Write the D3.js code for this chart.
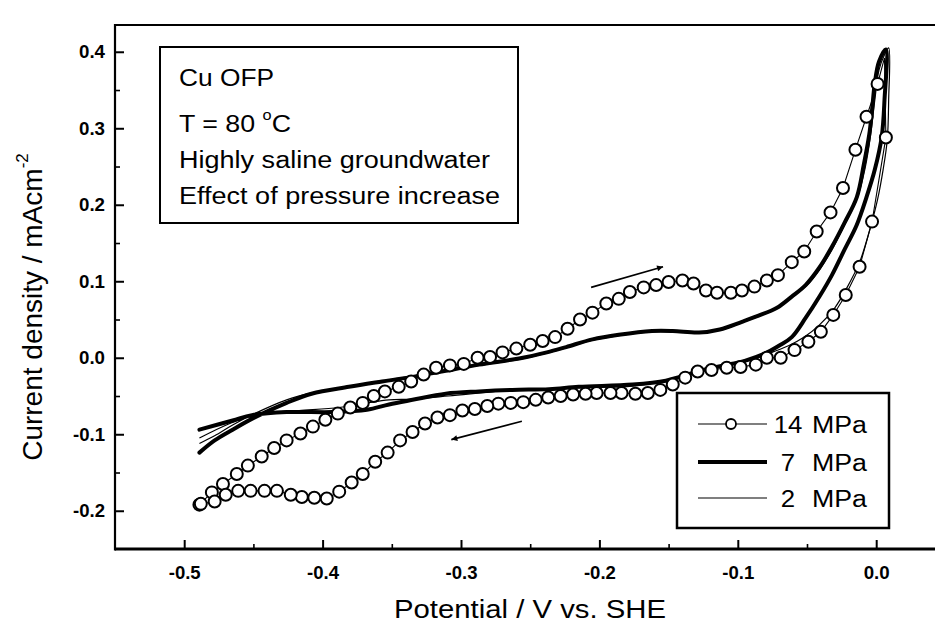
<!DOCTYPE html>
<html><head><meta charset="utf-8">
<script src="https://cdn.jsdelivr.net/npm/d3@7"></script>
<style>body{margin:0;background:#fff}svg{display:block}</style>
</head><body>
<svg id="chart" width="935" height="627"></svg>
<script>
// ---------- data (potential V vs SHE, current density mA/cm2) ----------
const xTickValues = [-0.5, -0.4, -0.3, -0.2, -0.1, 0.0];
const xMinorValues = [-0.45, -0.35, -0.25, -0.15, -0.05];
const yTickValues = [-0.2, -0.1, 0.0, 0.1, 0.2, 0.3, 0.4];
const yMinorValues = [-0.15, -0.05, 0.05, 0.15, 0.25, 0.35];
const seriesNames = ["14", "7", "2"];
const infoLines = ["Cu OFP", "T = 80 °C", "Highly saline groundwater", "Effect of pressure increase"];

// 14 MPa: forward (anodic) sweep then reverse sweep, circles
const p14 = [
 [-0.489,-0.192],[-0.480,-0.176],[-0.472,-0.165],[-0.462,-0.152],[-0.454,-0.141],[-0.444,-0.129],
 [-0.435,-0.118],[-0.426,-0.108],[-0.416,-0.099],[-0.407,-0.090],[-0.398,-0.081],[-0.389,-0.073],
 [-0.380,-0.065],[-0.371,-0.059],[-0.363,-0.050],[-0.355,-0.044],[-0.345,-0.038],[-0.336,-0.031],
 [-0.327,-0.022],[-0.318,-0.013],[-0.308,-0.010],[-0.298,-0.008],[-0.288,0.000],[-0.279,0.001],
 [-0.270,0.007],[-0.260,0.012],[-0.250,0.017],[-0.241,0.022],[-0.232,0.027],[-0.223,0.038],
 [-0.214,0.050],[-0.205,0.059],[-0.195,0.071],[-0.186,0.077],[-0.178,0.086],[-0.168,0.092],
 [-0.159,0.095],[-0.150,0.099],[-0.140,0.101],[-0.132,0.097],[-0.123,0.088],[-0.115,0.085],
 [-0.105,0.085],[-0.097,0.088],[-0.088,0.093],[-0.079,0.101],[-0.071,0.108],[-0.061,0.125],
 [-0.052,0.139],[-0.043,0.165],[-0.033,0.190],[-0.024,0.222],[-0.015,0.272],[-0.007,0.315],
 [0.001,0.358],
 [0.007,0.288],[-0.003,0.178],[-0.012,0.119],[-0.022,0.082],[-0.031,0.056],[-0.040,0.034],
 [-0.049,0.021],[-0.059,0.010],[-0.069,0.000],[-0.079,0.000],[-0.087,-0.009],[-0.098,-0.012],
 [-0.108,-0.013],[-0.119,-0.016],[-0.129,-0.018],[-0.138,-0.026],[-0.147,-0.035],[-0.156,-0.042],
 [-0.165,-0.046],[-0.174,-0.047],[-0.184,-0.046],[-0.192,-0.046],[-0.202,-0.046],[-0.210,-0.047],
 [-0.219,-0.048],[-0.228,-0.050],[-0.237,-0.052],[-0.246,-0.055],[-0.255,-0.058],[-0.264,-0.059],
 [-0.273,-0.060],[-0.281,-0.063],[-0.290,-0.067],[-0.299,-0.069],[-0.308,-0.075],[-0.317,-0.078],
 [-0.326,-0.086],[-0.335,-0.097],[-0.344,-0.108],[-0.353,-0.124],[-0.362,-0.136],[-0.371,-0.152],
 [-0.379,-0.163],[-0.388,-0.175],[-0.397,-0.184],[-0.406,-0.183],[-0.415,-0.182],[-0.423,-0.179],
 [-0.433,-0.174],[-0.442,-0.174],[-0.452,-0.174],[-0.461,-0.174],[-0.470,-0.179],[-0.478,-0.188],
 [-0.488,-0.191]
];
const p14VertexIndex = 55;             // sweep reversal lies between these two circles
const p14Vertex = [0.006, 0.392];

// 7 MPa: forward then reverse sweep
const p7 = [
 [-0.489,-0.124],[-0.478,-0.108],[-0.465,-0.094],[-0.448,-0.077],[-0.426,-0.059],[-0.408,-0.047],
 [-0.381,-0.038],[-0.357,-0.031],[-0.332,-0.024],[-0.311,-0.017],[-0.287,-0.009],[-0.258,-0.001],
 [-0.238,0.007],[-0.224,0.014],[-0.205,0.024],[-0.186,0.030],[-0.162,0.035],[-0.147,0.035],
 [-0.128,0.033],[-0.113,0.037],[-0.097,0.047],[-0.085,0.055],[-0.072,0.065],[-0.061,0.080],
 [-0.051,0.095],[-0.041,0.118],[-0.032,0.145],[-0.023,0.176],[-0.014,0.210],[-0.009,0.252],
 [-0.005,0.292],[-0.003,0.324],[-0.001,0.359],[0.002,0.387],[0.007,0.403],
 [0.006,0.337],[0.004,0.289],[-0.001,0.246],[-0.007,0.210],[-0.014,0.174],[-0.023,0.141],
 [-0.032,0.108],[-0.041,0.080],[-0.051,0.052],[-0.061,0.027],[-0.070,0.016],[-0.081,0.005],
 [-0.095,-0.004],[-0.110,-0.010],[-0.121,-0.014],[-0.133,-0.020],[-0.142,-0.025],[-0.152,-0.030],
 [-0.176,-0.035],[-0.215,-0.038],[-0.236,-0.041],[-0.263,-0.042],[-0.287,-0.044],[-0.311,-0.047],
 [-0.335,-0.055],[-0.352,-0.061],[-0.368,-0.068],[-0.393,-0.071],[-0.426,-0.071],[-0.451,-0.075],
 [-0.465,-0.082],[-0.489,-0.094]
];

// 2 MPa: forward then reverse sweep
const p2 = [
 [-0.489,-0.112],[-0.478,-0.102],[-0.465,-0.088],[-0.448,-0.072],[-0.426,-0.055],[-0.408,-0.046],
 [-0.381,-0.037],[-0.357,-0.030],[-0.332,-0.023],[-0.311,-0.016],[-0.287,-0.010],[-0.258,-0.002],
 [-0.238,0.006],[-0.224,0.013],[-0.205,0.023],[-0.186,0.029],[-0.162,0.034],[-0.147,0.034],
 [-0.128,0.032],[-0.113,0.036],[-0.097,0.046],[-0.085,0.054],[-0.072,0.064],[-0.061,0.079],
 [-0.051,0.093],[-0.041,0.115],[-0.032,0.141],[-0.023,0.173],[-0.014,0.207],[-0.008,0.248],
 [-0.004,0.292],[-0.001,0.337],[0.002,0.376],[0.006,0.396],[0.009,0.405],
 [0.009,0.337],[0.008,0.285],[0.005,0.246],[0.001,0.207],[-0.005,0.165],[-0.012,0.125],
 [-0.021,0.092],[-0.030,0.065],[-0.041,0.043],[-0.052,0.027],[-0.063,0.016],[-0.074,0.008],
 [-0.085,0.001],[-0.099,-0.005],[-0.113,-0.012],[-0.128,-0.017],[-0.142,-0.025],[-0.152,-0.030],
 [-0.176,-0.037],[-0.215,-0.039],[-0.263,-0.042],[-0.309,-0.050],[-0.335,-0.054],[-0.352,-0.055],
 [-0.368,-0.059],[-0.388,-0.065],[-0.417,-0.069],[-0.446,-0.073],[-0.467,-0.086],[-0.489,-0.105]
];

// sweep-direction arrows [from, to]
const arrowForward = [[-0.206, 0.092], [-0.154, 0.119]];
const arrowReverse = [[-0.256, -0.083], [-0.307, -0.107]];

// ---------- drawing ----------
(function () {
const svg = d3.select("#chart");
const W = 935, H = 627;
const PL = 115, PT = 25, PB = 549, PR = 945.4;
const FONT = "'Liberation Sans', Arial, Helvetica, sans-serif";

const x = d3.scaleLinear().domain([-0.55, 0.05]).range([PL, PR]);
const y = d3.scaleLinear().domain([-0.25, 0.435]).range([PB, PT]);

function stretch(sel, k) {
  sel.each(function () {
    const w = this.getComputedTextLength();
    this.setAttribute("textLength", w * k);
    this.setAttribute("lengthAdjust", "spacingAndGlyphs");
  });
}
function fitWidth(sel, w) {
  sel.attr("textLength", w).attr("lengthAdjust", "spacingAndGlyphs");
}
const tickLabel = d => d3.format(".1f")(d).replace("−", "-");
const tickWidth = d => (d < 0 ? 32 : 26);

svg.append("rect").attr("width", W).attr("height", H).attr("fill", "#fff");

// minor ticks
svg.append("g").attr("transform", `translate(0,${PB})`)
  .call(d3.axisBottom(x).tickValues(xMinorValues).tickSizeInner(-5).tickSizeOuter(0).tickFormat(""))
  .call(g => g.select(".domain").remove())
  .call(g => g.selectAll("line").attr("stroke", "#000").attr("stroke-width", 1.6));
svg.append("g").attr("transform", `translate(${PL},0)`)
  .call(d3.axisLeft(y).tickValues(yMinorValues).tickSizeInner(-5).tickSizeOuter(0).tickFormat(""))
  .call(g => g.select(".domain").remove())
  .call(g => g.selectAll("line").attr("stroke", "#000").attr("stroke-width", 1.6));

// major axes
const xAxis = svg.append("g").attr("transform", `translate(0,${PB})`)
  .call(d3.axisBottom(x).tickValues(xTickValues).tickSizeInner(-9).tickSizeOuter(0)
        .tickPadding(17).tickFormat(tickLabel));
xAxis.select(".domain").remove();
xAxis.selectAll("line").attr("stroke", "#000").attr("stroke-width", 2);
xAxis.selectAll("text").attr("fill", "#000").attr("font-family", FONT)
  .attr("font-size", 18).attr("font-weight", "bold").attr("dy", "0.71em")
  .attr("textLength", tickWidth).attr("lengthAdjust", "spacingAndGlyphs");

const yAxis = svg.append("g").attr("transform", `translate(${PL},0)`)
  .call(d3.axisLeft(y).tickValues(yTickValues).tickSizeInner(-9).tickSizeOuter(0)
        .tickPadding(10).tickFormat(tickLabel));
yAxis.select(".domain").remove();
yAxis.selectAll("line").attr("stroke", "#000").attr("stroke-width", 2);
yAxis.selectAll("text").attr("fill", "#000").attr("font-family", FONT)
  .attr("font-size", 18).attr("font-weight", "bold")
  .attr("textLength", tickWidth).attr("lengthAdjust", "spacingAndGlyphs");

// frame
svg.append("line").attr("x1", PL).attr("x2", W + 10).attr("y1", PT).attr("y2", PT)
  .attr("stroke", "#000").attr("stroke-width", 2.2);
svg.append("line").attr("x1", PL).attr("x2", W + 10).attr("y1", PB).attr("y2", PB)
  .attr("stroke", "#000").attr("stroke-width", 3);
svg.append("line").attr("x1", PL).attr("x2", PL).attr("y1", PT - 1).attr("y2", PB + 1.5)
  .attr("stroke", "#000").attr("stroke-width", 2.2);

// axis titles
const xt = svg.append("text").attr("x", 530).attr("y", 618).attr("text-anchor", "middle")
  .attr("font-family", FONT).attr("font-size", 25).attr("fill", "#000")
  .text("Potential / V vs. SHE");
fitWidth(xt, 272);

const yt = svg.append("text").attr("transform", "translate(42,307) rotate(-90)")
  .attr("text-anchor", "middle").attr("font-family", FONT).attr("font-size", 28).attr("fill", "#000");
yt.append("tspan").text("Current density / mAcm");
yt.append("tspan").attr("font-size", 17).attr("dy", -14).text("-2");

// curves
const line = d3.line().x(d => x(d[0])).y(d => y(d[1]));
const smooth = d3.line().x(d => x(d[0])).y(d => y(d[1])).curve(d3.curveCatmullRom.alpha(0.5));

svg.append("path").datum(p2).attr("d", smooth).attr("fill", "none")
  .attr("stroke", "#000").attr("stroke-width", 1.2).attr("stroke-linejoin", "round");
svg.append("path").datum(p7).attr("d", smooth).attr("fill", "none")
  .attr("stroke", "#000").attr("stroke-width", 4).attr("stroke-linejoin", "round").attr("stroke-linecap", "round");

const p14Line = p14.slice(0, p14VertexIndex).concat([p14Vertex], p14.slice(p14VertexIndex));
svg.append("path").datum(p14Line).attr("d", line).attr("fill", "none")
  .attr("stroke", "#000").attr("stroke-width", 1.1);
svg.append("g").selectAll("circle").data(p14).join("circle")
  .attr("cx", d => x(d[0])).attr("cy", d => y(d[1])).attr("r", 6)
  .attr("fill", "#fff").attr("stroke", "#000").attr("stroke-width", 2);

// arrows
const defs = svg.append("defs");
defs.append("marker").attr("id", "ah").attr("viewBox", "0 0 10 10").attr("refX", 10).attr("refY", 5)
  .attr("markerWidth", 10).attr("markerHeight", 6).attr("markerUnits", "userSpaceOnUse")
  .attr("orient", "auto")
  .append("path").attr("d", "M0,0L10,5L0,10Z").attr("fill", "#000");
[arrowForward, arrowReverse].forEach(a => {
  svg.append("line").attr("x1", x(a[0][0])).attr("y1", y(a[0][1]))
    .attr("x2", x(a[1][0])).attr("y2", y(a[1][1]))
    .attr("stroke", "#000").attr("stroke-width", 1.6).attr("marker-end", "url(#ah)");
});

// info box
svg.append("rect").attr("x", 160).attr("y", 47).attr("width", 358).attr("height", 176)
  .attr("fill", "#fff").attr("stroke", "#000").attr("stroke-width", 2);
const infoY = [86, 132, 168, 204];
const infoW = [95, 112, 311, 321];
infoLines.forEach((t, i) => {
  const tx = svg.append("text").attr("x", 179).attr("y", infoY[i])
    .attr("font-family", FONT).attr("font-size", 23).attr("fill", "#000");
  if (t.includes("°")) {
    const parts = t.split("°");
    tx.append("tspan").text(parts[0]);
    tx.append("tspan").attr("font-size", 14).attr("dy", -12).text("o");
    tx.append("tspan").attr("dy", 12).text(parts[1]);
  } else {
    tx.text(t);
  }
  fitWidth(tx, infoW[i]);
});

// legend
svg.append("rect").attr("x", 677).attr("y", 393).attr("width", 212).attr("height", 135)
  .attr("fill", "#fff").attr("stroke", "#000").attr("stroke-width", 2.5);
const legY = [424, 462, 498];
const legW = [1.1, 4, 1.2];
seriesNames.forEach((s, i) => {
  svg.append("line").attr("x1", 698).attr("x2", 767).attr("y1", legY[i]).attr("y2", legY[i])
    .attr("stroke", "#000").attr("stroke-width", legW[i]);
  if (i === 0) {
    svg.append("circle").attr("cx", 731).attr("cy", legY[i]).attr("r", 5)
      .attr("fill", "#fff").attr("stroke", "#000").attr("stroke-width", 1.8);
  }
  const n = svg.append("text").attr("x", 788).attr("y", legY[i] + 9).attr("text-anchor", "middle")
    .attr("font-family", FONT).attr("font-size", 23).attr("fill", "#000").text(s);
  stretch(n, 1.12);
  const u = svg.append("text").attr("x", 812).attr("y", legY[i] + 9)
    .attr("font-family", FONT).attr("font-size", 23).attr("fill", "#000").text("MPa");
  fitWidth(u, 55);
});
})();
</script>
</body></html>
